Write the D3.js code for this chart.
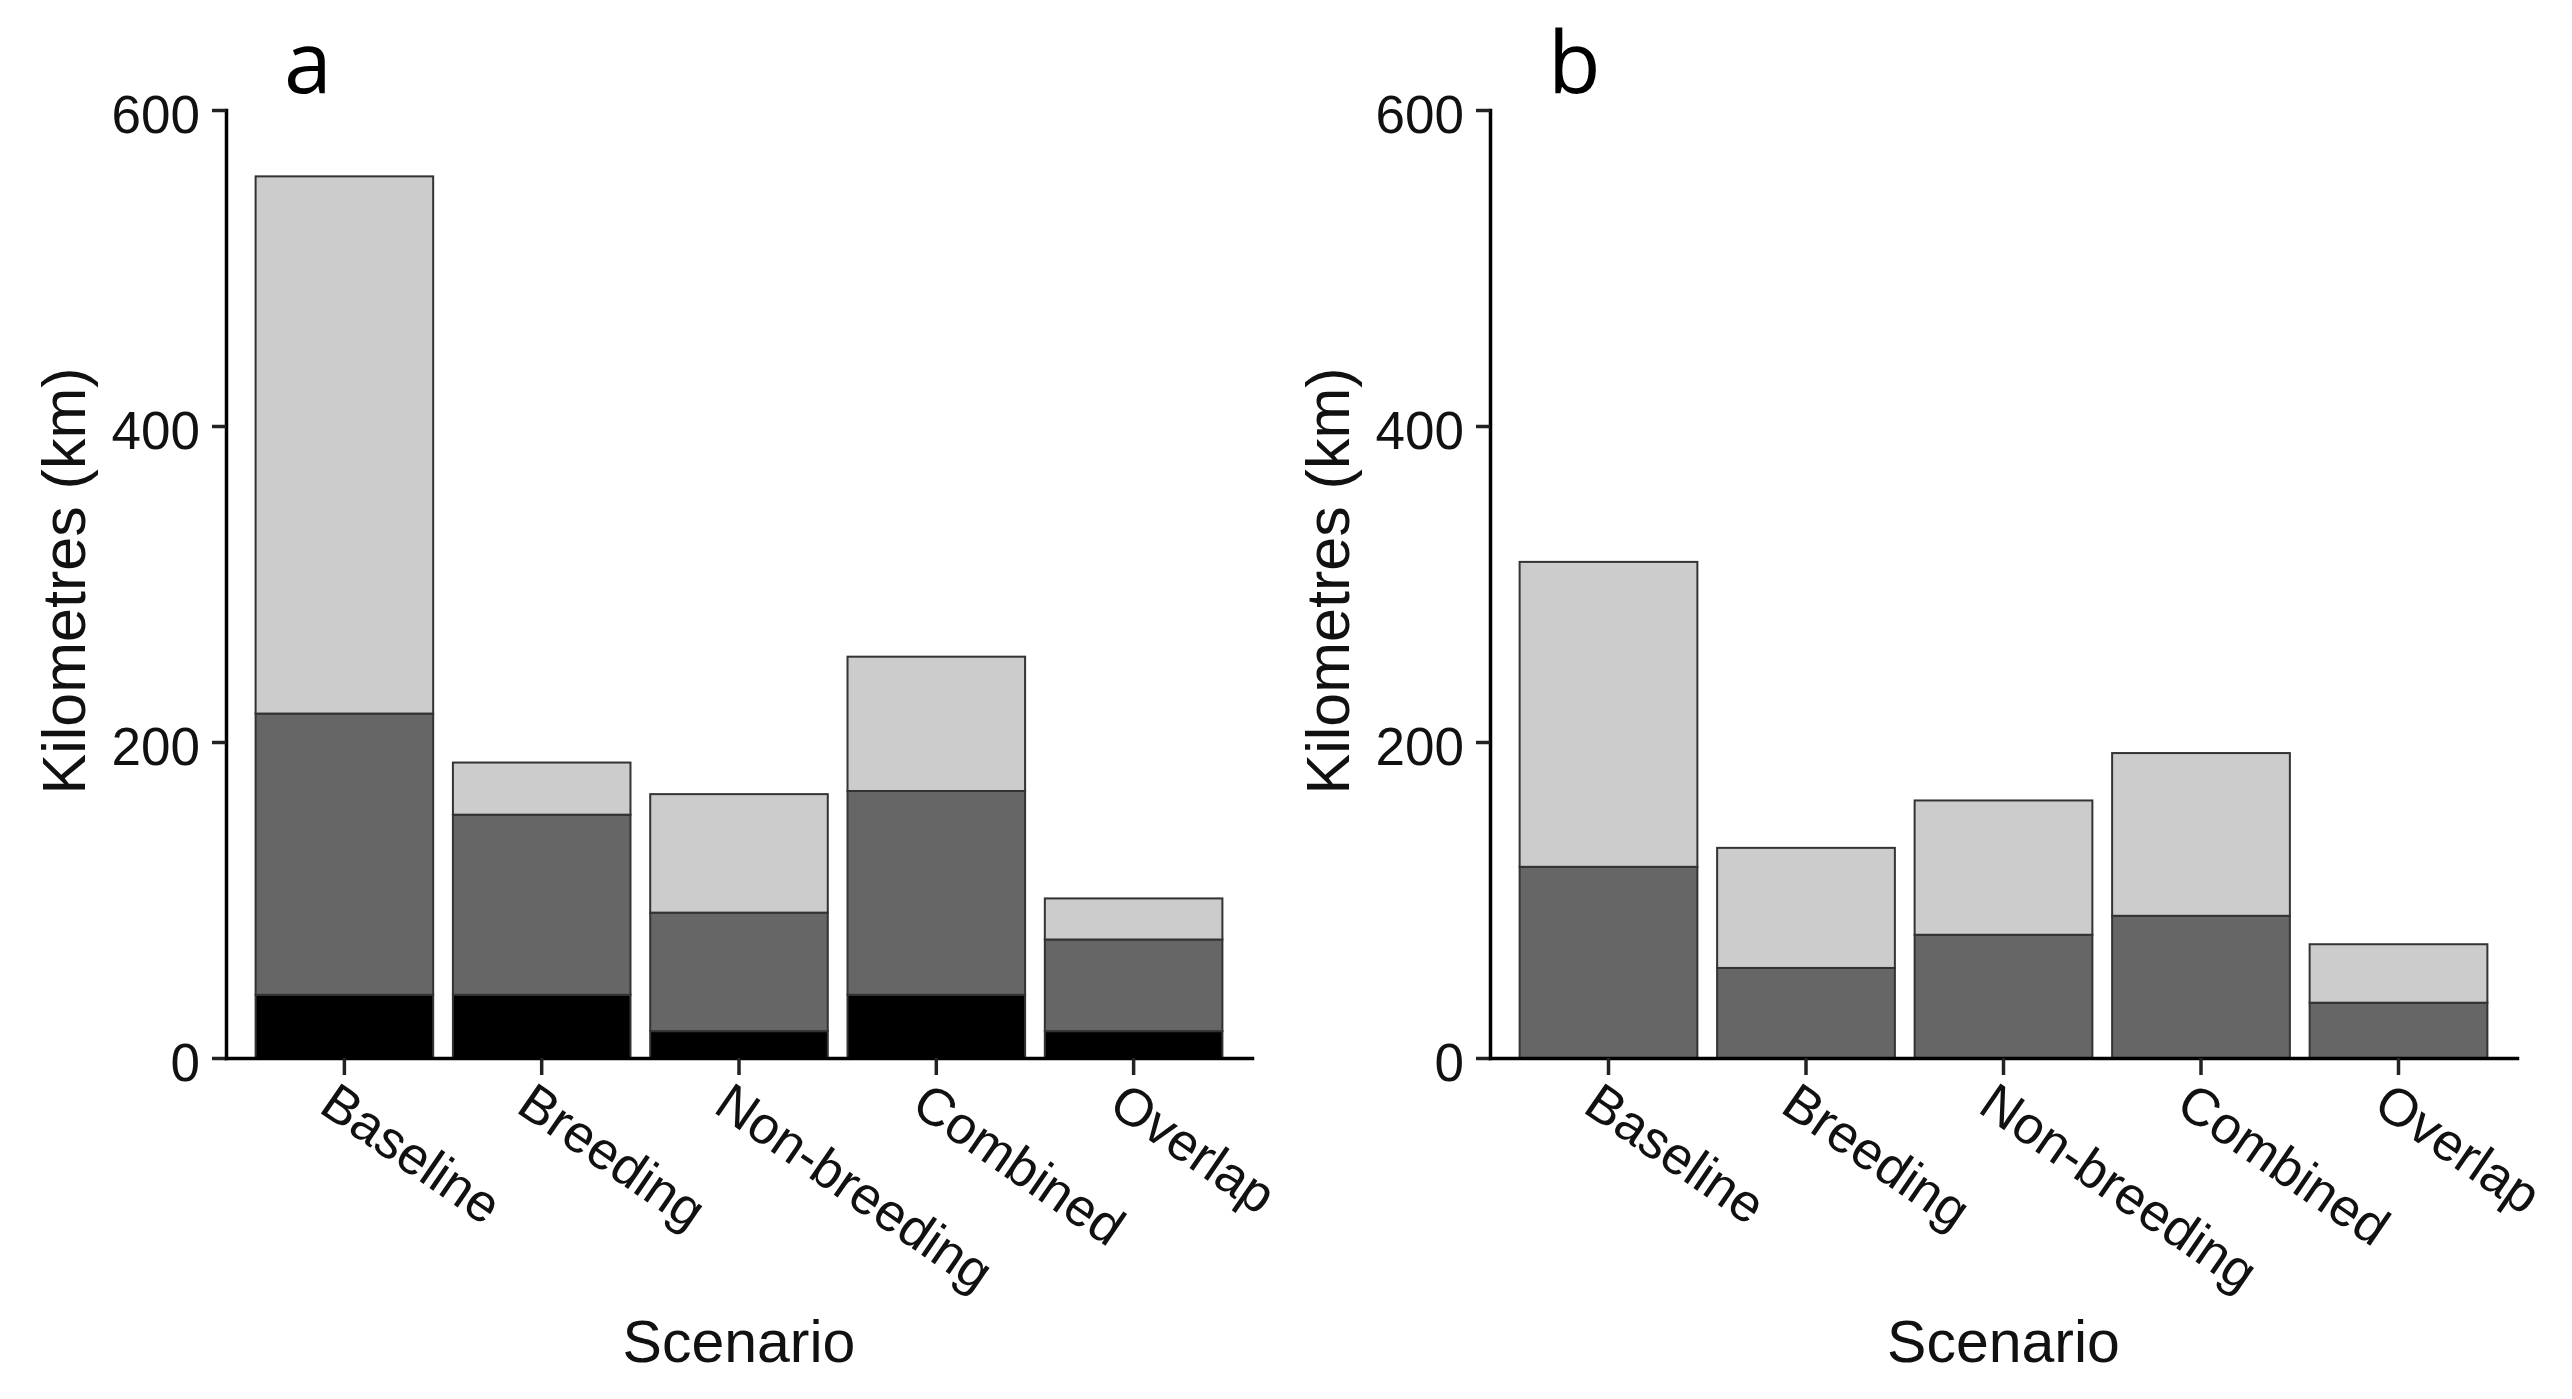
<!DOCTYPE html>
<html>
<head>
<meta charset="utf-8">
<script src="https://cdn.jsdelivr.net/npm/d3@7/dist/d3.min.js"></script>
<style>
    html, body { margin: 0; padding: 0; background: #fff; }
    svg { display: block; }
    .tick text { font-family: "Liberation Sans", Arial, sans-serif; }
</style>
</head>
<body>
<div id="chart"></div>
<script>
// scenario categories on the x axis
const scenarios = ['Baseline', 'Breeding', 'Non-breeding', 'Combined', 'Overlap'];
const yTicks = [0, 200, 400, 600];

// panel a, stacked segments (km), bottom to top
const lowerA  = [40, 40, 17, 40, 17];
const middleA = [178, 114, 75, 129, 58];
const upperA  = [340, 33, 75, 85, 26];

// panel b, no bottom segment
const lowerB  = [0, 0, 0, 0, 0];
const middleB = [121, 57, 78, 90, 35];
const upperB  = [193, 76, 85, 103, 37];

const segmentKeys = ['lower', 'middle', 'upper'];
const segmentFill = { lower: '#000000', middle: '#666666', upper: '#cccccc' };

const width = 2572, height = 1399;
const yTop = 110, yBottom = 1058;

const svg = d3.select('#chart')
    .append('svg')
    .attr('width', width)
    .attr('height', height);

// builds rows {scenario, lower, middle, upper} from the arrays
function buildRows(lower, middle, upper) {
    return scenarios.map((s, i) => ({ scenario: s, lower: lower[i], middle: middle[i], upper: upper[i] }));
}

function drawPanel(label, rows, x0, x1) {
    const g = svg.append('g');

    const x = d3.scaleBand()
        .domain(scenarios)
        .range([x0, x1])
        .paddingInner(0.1)
        .paddingOuter(0.15);

    const y = d3.scaleLinear()
        .domain([0, 600])
        .range([yBottom, yTop]);

    const series = d3.stack().keys(segmentKeys)(rows);

    // bars
    g.append('g')
        .selectAll('g')
        .data(series)
        .enter()
        .append('g')
        .attr('fill', d => segmentFill[d.key])
        .selectAll('rect')
        .data(d => d.filter(p => p[1] > p[0]))
        .enter()
        .append('rect')
        .attr('x', d => x(d.data.scenario))
        .attr('width', x.bandwidth())
        .attr('y', d => y(d[1]))
        .attr('height', d => y(d[0]) - y(d[1]))
        .attr('stroke', '#333')
        .attr('stroke-width', 2);

    // y axis
    const yAxis = g.append('g')
        .attr('transform', `translate(${x0},0)`)
        .call(d3.axisLeft(y).tickValues(yTicks).tickSize(14).tickSizeOuter(0).tickPadding(12));

    // x axis
    const xAxis = g.append('g')
        .attr('transform', `translate(0,${yBottom})`)
        .call(d3.axisBottom(x).tickSize(17).tickSizeOuter(0));

    [yAxis, xAxis].forEach(a => {
        a.select('.domain').attr('stroke', '#000').attr('stroke-width', 3.5).attr('stroke-linecap', 'square');
        a.selectAll('.tick line').attr('stroke', '#222').attr('stroke-width', 3.5);
    });

    yAxis.selectAll('.tick text')
        .attr('font-size', 53)
        .attr('fill', '#111')
        .attr('dy', '0.42em');

    // rotated category labels, top-left corner under the tick
    xAxis.selectAll('.tick text')
        .attr('font-size', 53)
        .attr('fill', '#111')
        .attr('text-anchor', 'start')
        .attr('x', -6)
        .attr('y', 0)
        .attr('dy', '0.74em')
        .attr('transform', 'translate(0,24) rotate(34.5)');

    // axis titles
    g.append('text')
        .attr('x', (x0 + x1) / 2)
        .attr('y', 1362)
        .attr('text-anchor', 'middle')
        .style('font', '59px "Liberation Sans", Arial, sans-serif')
        .attr('fill', '#111')
        .text('Scenario');

    g.append('text')
        .attr('transform', `translate(${x0 - 141},${(yTop + yBottom) / 2 - 3}) rotate(-90)`)
        .attr('text-anchor', 'middle')
        .style('font', '61px "Liberation Sans", Arial, sans-serif')
        .attr('fill', '#111')
        .text('Kilometres (km)');

    // panel letter
    g.append('text')
        .attr('x', x0 + 58)
        .attr('y', 93)
        .style('font', '86px "Open Sans", sans-serif')
        .attr('fill', '#000')
        .text(label);
}

drawPanel('a', buildRows(lowerA, middleA, upperA), 226, 1252);
drawPanel('b', buildRows(lowerB, middleB, upperB), 1490, 2517);
</script>
</body>
</html>
